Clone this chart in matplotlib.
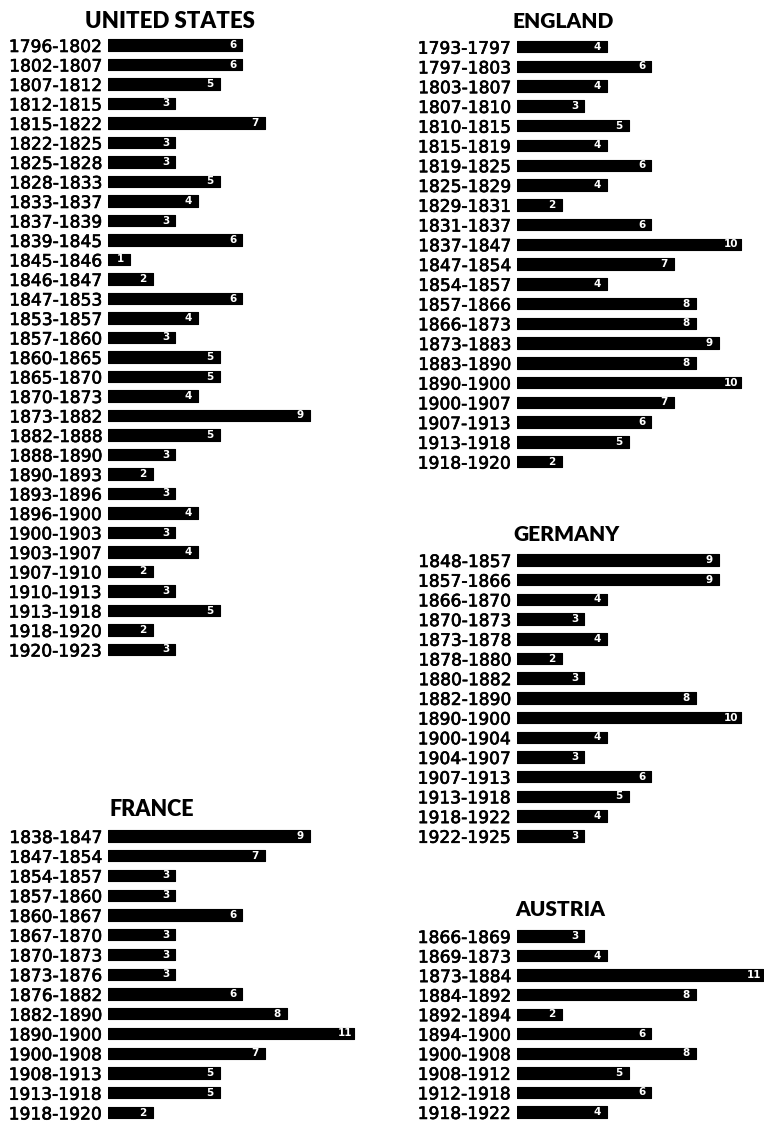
import matplotlib
matplotlib.use("Agg")
import matplotlib.pyplot as plt
import matplotlib.patheffects as pe

# ---------------- data ----------------
us_periods = ["1796-1802", "1802-1807", "1807-1812", "1812-1815", "1815-1822",
              "1822-1825", "1825-1828", "1828-1833", "1833-1837", "1837-1839",
              "1839-1845", "1845-1846", "1846-1847", "1847-1853", "1853-1857",
              "1857-1860", "1860-1865", "1865-1870", "1870-1873", "1873-1882",
              "1882-1888", "1888-1890", "1890-1893", "1893-1896", "1896-1900",
              "1900-1903", "1903-1907", "1907-1910", "1910-1913", "1913-1918",
              "1918-1920", "1920-1923"]
us_values = [6, 6, 5, 3, 7, 3, 3, 5, 4, 3, 6, 1, 2, 6, 4, 3, 5, 5, 4, 9,
             5, 3, 2, 3, 4, 3, 4, 2, 3, 5, 2, 3]

england_periods = ["1793-1797", "1797-1803", "1803-1807", "1807-1810", "1810-1815",
                   "1815-1819", "1819-1825", "1825-1829", "1829-1831", "1831-1837",
                   "1837-1847", "1847-1854", "1854-1857", "1857-1866", "1866-1873",
                   "1873-1883", "1883-1890", "1890-1900", "1900-1907", "1907-1913",
                   "1913-1918", "1918-1920"]
england_values = [4, 6, 4, 3, 5, 4, 6, 4, 2, 6, 10, 7, 4, 8, 8, 9, 8, 10, 7, 6, 5, 2]

germany_periods = ["1848-1857", "1857-1866", "1866-1870", "1870-1873", "1873-1878",
                   "1878-1880", "1880-1882", "1882-1890", "1890-1900", "1900-1904",
                   "1904-1907", "1907-1913", "1913-1918", "1918-1922", "1922-1925"]
germany_values = [9, 9, 4, 3, 4, 2, 3, 8, 10, 4, 3, 6, 5, 4, 3]

france_periods = ["1838-1847", "1847-1854", "1854-1857", "1857-1860", "1860-1867",
                  "1867-1870", "1870-1873", "1873-1876", "1876-1882", "1882-1890",
                  "1890-1900", "1900-1908", "1908-1913", "1913-1918", "1918-1920"]
france_values = [9, 7, 3, 3, 6, 3, 3, 3, 6, 8, 11, 7, 5, 5, 2]

austria_periods = ["1866-1869", "1869-1873", "1873-1884", "1884-1892", "1892-1894",
                   "1894-1900", "1900-1908", "1908-1912", "1912-1918", "1918-1922"]
austria_values = [3, 4, 11, 8, 2, 6, 8, 5, 6, 4]

titles = ["UNITED STATES", "ENGLAND", "GERMANY", "FRANCE", "AUSTRIA"]

# ---------------- layout ----------------
W, H = 764, 1123
PX_PER_UNIT = 22.4
XMAX = 11.2

fig = plt.figure(figsize=(W / 100, H / 100), dpi=100)
fig.patch.set_facecolor("white")

LABEL_FONT = dict(family="DejaVu Sans", fontsize=12.3, fontweight="normal")
TITLE_FONT = dict(family="Lato", fontsize=15, fontweight="heavy")
THICK = [pe.withStroke(linewidth=0.45, foreground="black")]


def panel(periods, values, title, x0, first_y, spacing, title_xy, title_size=15):
    n = len(periods)
    top = first_y - spacing / 2
    height = n * spacing
    width = XMAX * PX_PER_UNIT
    ax = fig.add_axes([x0 / W, 1 - (top + height) / H, width / W, height / H])
    ypos = list(range(n))
    ax.barh(ypos, values, height=0.58, color="black", left=0,
            edgecolor="black", linewidth=0.8, joinstyle="round")
    ax.set_xlim(0, XMAX)
    ax.set_ylim(n - 0.5, -0.5)
    ax.set_yticks(ypos)
    ax.set_yticklabels(periods, **LABEL_FONT)
    for t in ax.get_yticklabels():
        t.set_path_effects(THICK)
    ax.tick_params(axis="y", length=0, pad=4)
    ax.set_xticks([])
    for s in ax.spines.values():
        s.set_visible(False)
    ax.patch.set_alpha(0)
    for y, v in zip(ypos, values):
        ax.annotate(str(v), xy=(v, y), xytext=(-7, 0), textcoords="offset points",
                    ha="center", va="center", color="white", fontsize=7.5,
                    fontweight="bold", family="DejaVu Sans")
    tf = dict(TITLE_FONT)
    tf["fontsize"] = title_size
    fig.text(title_xy[0] / W, 1 - title_xy[1] / H, title, ha="center", va="center",
             **tf)


panel(us_periods, us_values, titles[0], 108, 45, 19.5, (170, 21), 16)
panel(england_periods, england_values, titles[1], 517, 46.7, 19.76, (563, 21))
panel(germany_periods, germany_values, titles[2], 517, 560, 19.7, (567, 534))
panel(france_periods, france_values, titles[3], 108, 836, 19.75, (152, 810), 15.5)
panel(austria_periods, austria_values, titles[4], 517, 936, 19.55, (560, 909))

fig.savefig("out.png", dpi=100, facecolor="white")
